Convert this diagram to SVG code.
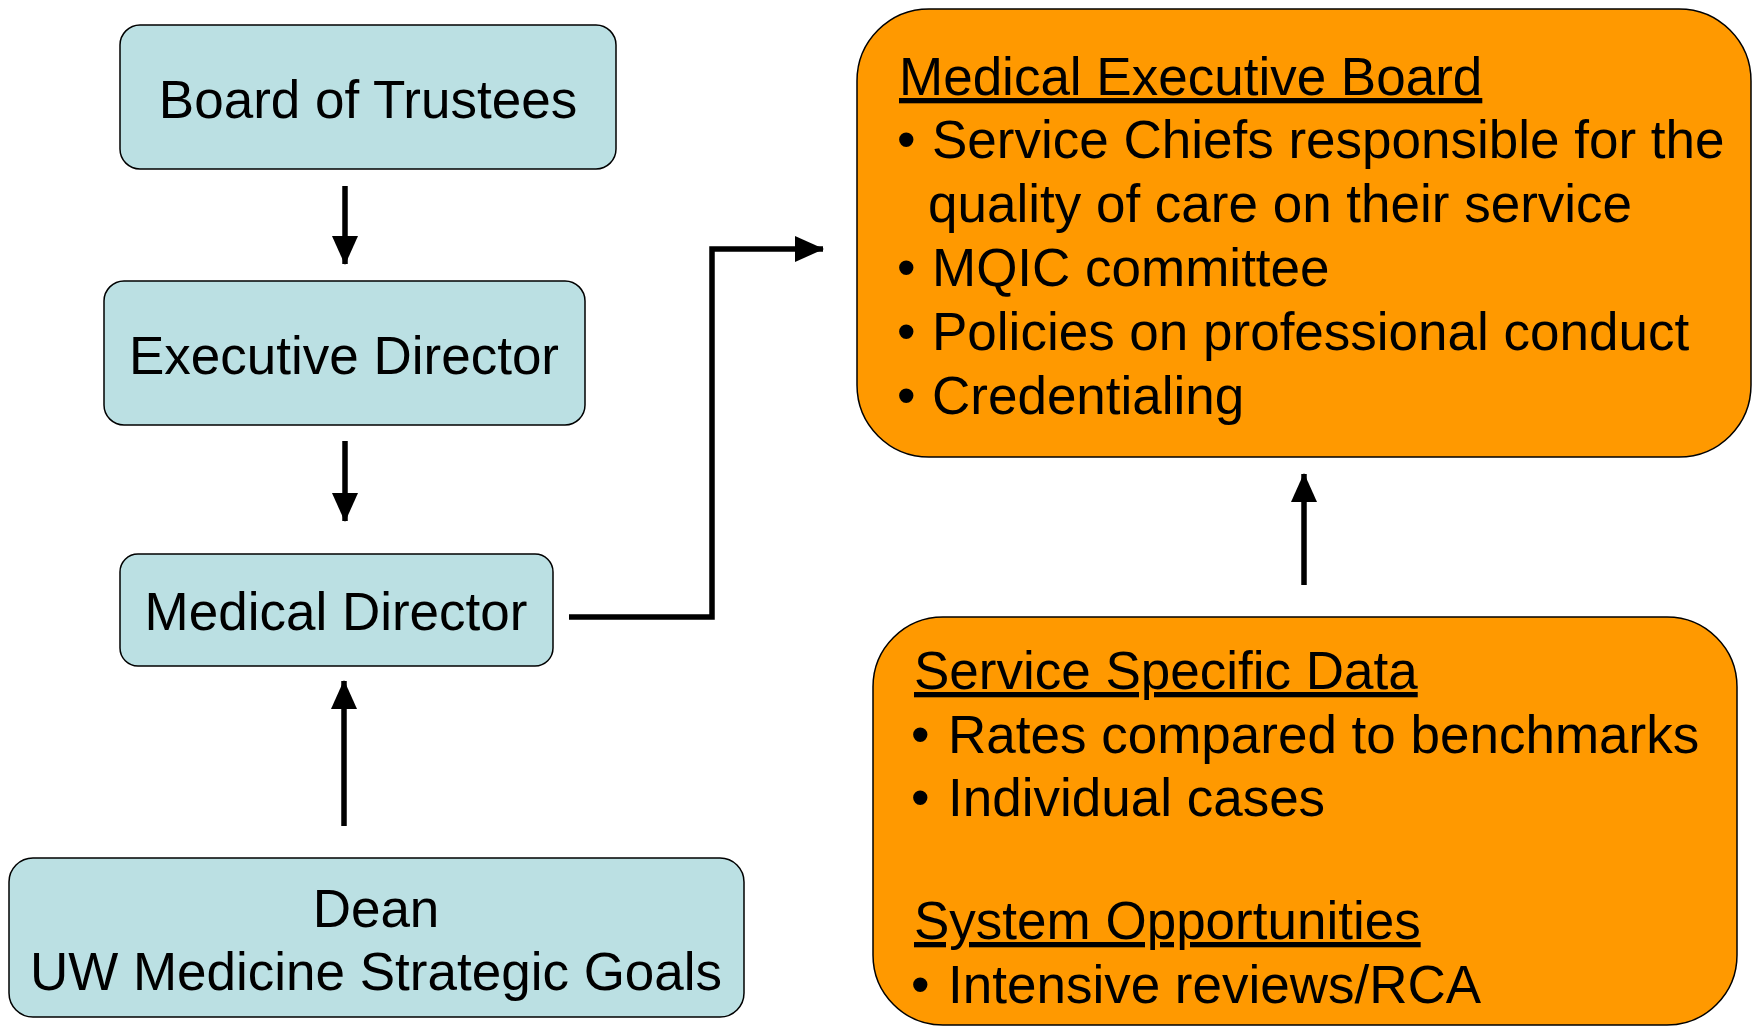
<svg xmlns="http://www.w3.org/2000/svg" width="1757" height="1026" viewBox="0 0 1757 1026">
<style>
text{font-family:"Liberation Sans",Arial,sans-serif;font-size:53px;fill:#000}
.c{text-anchor:middle}
.u{text-decoration:underline;text-decoration-thickness:4px}
.blue{fill:#BBE0E3;stroke:#000;stroke-width:1.5}
.orange{fill:#FF9900;stroke:#000;stroke-width:1.5}
.ln{fill:none;stroke:#000;stroke-width:5.5}
</style>
<defs>
<marker id="ah" markerUnits="userSpaceOnUse" markerWidth="30" markerHeight="30" viewBox="0 0 30 30" refX="28" refY="15" orient="auto">
<path d="M0,2 L29,15 L0,28 Z" fill="#000"/>
</marker>
</defs>
<rect width="1757" height="1026" fill="#fff"/>
<g id="connectors">
<line class="ln" x1="345" y1="186" x2="345" y2="264" marker-end="url(#ah)"/>
<line class="ln" x1="345" y1="441" x2="345" y2="521" marker-end="url(#ah)"/>
<line class="ln" x1="344" y1="826" x2="344" y2="681" marker-end="url(#ah)"/>
<path class="ln" d="M569,617 H712 V249 H823" stroke-width="6.5" marker-end="url(#ah)"/>
<line class="ln" x1="1304" y1="585" x2="1304" y2="474" marker-end="url(#ah)"/>
</g>
<g id="board">
<rect class="blue" x="120" y="25" width="496" height="144" rx="20"/>
<text class="c" x="368" y="118">Board of Trustees</text>
</g>
<g id="executive">
<rect class="blue" x="104" y="281" width="481" height="144" rx="20"/>
<text class="c" x="344" y="374">Executive Director</text>
</g>
<g id="medical">
<rect class="blue" x="120" y="554" width="433" height="112" rx="18"/>
<text class="c" x="336" y="630">Medical Director</text>
</g>
<g id="dean">
<rect class="blue" x="9" y="858" width="735" height="159" rx="24"/>
<text class="c" x="376" y="927">Dean</text>
<text class="c" x="376" y="990">UW Medicine Strategic Goals</text>
</g>
<g id="meb">
<rect class="orange" x="857" y="9" width="894" height="448" rx="72"/>
<text class="u" x="899" y="95">Medical Executive Board</text>
<text x="897" y="158">•</text><text x="932" y="158">Service Chiefs responsible for the</text>
<text x="928" y="222">quality of care on their service</text>
<text x="897" y="286">•</text><text x="932" y="286">MQIC committee</text>
<text x="897" y="350">•</text><text x="932" y="350">Policies on professional conduct</text>
<text x="897" y="414">•</text><text x="932" y="414">Credentialing</text>
</g>
<g id="ssd">
<rect class="orange" x="873" y="617" width="864" height="408" rx="70"/>
<text class="u" x="914" y="689">Service Specific Data</text>
<text x="911" y="753">•</text><text x="948" y="753">Rates compared to benchmarks</text>
<text x="911" y="816">•</text><text x="948" y="816">Individual cases</text>
<text class="u" x="914" y="939">System Opportunities</text>
<text x="911" y="1003">•</text><text x="948" y="1003">Intensive reviews/RCA</text>
</g>
</svg>
